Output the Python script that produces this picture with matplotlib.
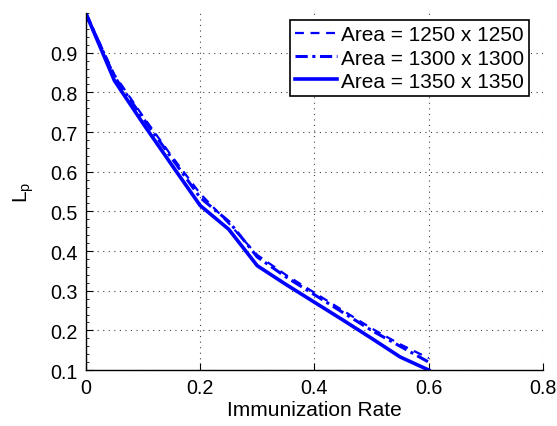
import matplotlib
matplotlib.use("Agg")
import matplotlib.pyplot as plt
from matplotlib.ticker import MultipleLocator

plt.rcParams['font.family'] = ['Liberation Sans', 'DejaVu Sans']
plt.rcParams['mathtext.fontset'] = 'custom'
plt.rcParams['mathtext.rm'] = 'Liberation Sans'

rate = [0.0, 0.05, 0.10, 0.15, 0.20, 0.25, 0.30, 0.35, 0.40, 0.45, 0.50, 0.55, 0.60]
lp_1250 = [1.0, 0.845, 0.740, 0.640, 0.545, 0.470, 0.390, 0.340, 0.295, 0.250, 0.205, 0.165, 0.130]
lp_1300 = [1.0, 0.840, 0.735, 0.635, 0.535, 0.475, 0.385, 0.335, 0.290, 0.245, 0.200, 0.160, 0.120]
lp_1350 = [1.0, 0.830, 0.722, 0.618, 0.515, 0.455, 0.363, 0.316, 0.271, 0.226, 0.180, 0.133, 0.100]
labels = ['Area = 1250 x 1250', 'Area = 1300 x 1300', 'Area = 1350 x 1350']
xticks = [0, 0.2, 0.4, 0.6, 0.8]
xticklabels = ['0', '0.2', '0.4', '0.6', '0.8']
yticks = [0.1, 0.2, 0.3, 0.4, 0.5, 0.6, 0.7, 0.8, 0.9]

fig = plt.figure(figsize=(5.57, 4.27), dpi=100)
ax = fig.add_axes([0.154, 0.131, 0.821, 0.836])

blue = '#0000ff'
ax.plot(rate, lp_1250, linestyle=(0, (4, 3)), color=blue, lw=1.6, label=labels[0])
ax.plot(rate, lp_1300, linestyle=(0, (4, 1.5, 1, 1.5)), color=blue, lw=2.2, label=labels[1])
ax.plot(rate, lp_1350, linestyle='-', color=blue, lw=2.6, label=labels[2])

ax.set_xlim(0, 0.8)
ax.set_ylim(0.1, 1.0)
ax.set_xticks(xticks)
ax.set_xticklabels(xticklabels)
ax.set_yticks(yticks)
ax.set_yticklabels([f'{v:.1f}' for v in yticks])
ax.yaxis.set_minor_locator(MultipleLocator(0.02))

for s in ['top', 'right']:
    ax.spines[s].set_visible(False)
for s in ['left', 'bottom']:
    ax.spines[s].set_linewidth(1.0)

ax.tick_params(axis='both', which='major', direction='in', length=5, labelsize=14.2, pad=6)
ax.tick_params(axis='y', which='minor', direction='in', length=2.5)
ax.grid(True, which='major', linestyle=(0, (1, 4)), color='#444444', linewidth=0.8)

ax.set_xlabel('Immunization Rate', fontsize=15, labelpad=2)
ax.set_ylabel(r'L$_\mathregular{p}$', fontsize=15, labelpad=10)

leg = ax.legend(loc='upper right', fontsize=15, fancybox=False, framealpha=1,
                edgecolor='black', handlelength=2.0, handletextpad=0.2,
                borderpad=0.25, labelspacing=0.2, borderaxespad=0,
                bbox_to_anchor=(0.97, 0.980))
leg.get_frame().set_linewidth(1.2)

fig.savefig('out.png', dpi=100)
